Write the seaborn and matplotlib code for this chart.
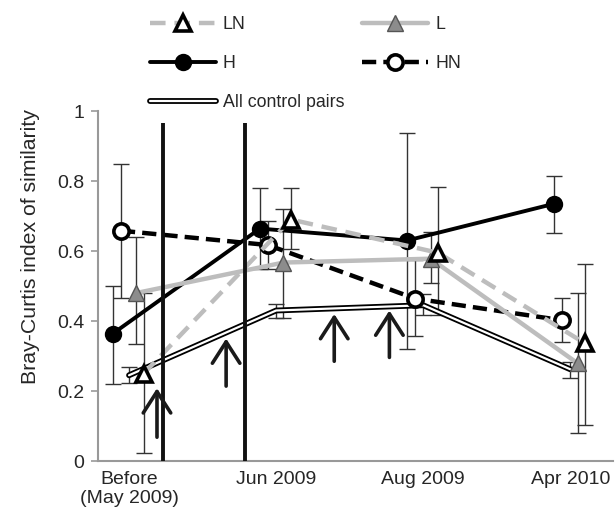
import matplotlib
matplotlib.use("Agg")
import matplotlib.pyplot as plt
import matplotlib.patheffects as pe
import seaborn as sns
import pandas as pd
import numpy as np

# ---- data ----
periods = ["Before\n(May 2009)", "Jun 2009", "Aug 2009", "Apr 2010"]

H_mean = [0.364, 0.664, 0.630, 0.735]
H_lo = [0.220, 0.550, 0.320, 0.652]
H_hi = [0.500, 0.780, 0.937, 0.815]

HN_mean = [0.658, 0.617, 0.464, 0.402]
HN_lo = [0.465, 0.550, 0.356, 0.339]
HN_hi = [0.849, 0.686, 0.573, 0.465]

CTRL_mean = [0.245, 0.430, 0.445, 0.262]
CTRL_lo = [0.222, 0.410, 0.416, 0.236]
CTRL_hi = [0.268, 0.450, 0.478, 0.282]

L_mean = [0.480, 0.567, 0.578, 0.279]
L_lo = [0.335, 0.410, 0.508, 0.080]
L_hi = [0.640, 0.720, 0.655, 0.479]

LN_mean = [0.250, 0.690, 0.595, 0.336]
LN_lo = [0.022, 0.605, 0.416, 0.103]
LN_hi = [0.480, 0.780, 0.784, 0.564]

# event markers
event_lines = [0.23, 0.79]
arrow_x = [0.19, 0.66, 1.395, 1.77]
arrow_tip = [0.208, 0.350, 0.420, 0.430]
arrow_tail = [0.068, 0.214, 0.285, 0.296]

# ---- figure ----
sns.set_theme(style="white")
plt.rcParams["font.family"] = ["Liberation Sans", "DejaVu Sans"]

fig = plt.figure(figsize=(6.16, 5.18), dpi=100)
ax = fig.add_axes([98 / 616, 1 - 461 / 518, (613 - 98) / 616, (461 - 111) / 518])

xbase = np.arange(len(periods))

series = [
    # name, mean, lo, hi, offset, style
    ("H", H_mean, H_lo, H_hi, -0.11,
     dict(color="black", lw=2.8, marker="o", markersize=11, mfc="black", mec="black", mew=1.5), None),
    ("HN", HN_mean, HN_lo, HN_hi, -0.055,
     dict(color="black", lw=3.2, marker="o", markersize=11, mfc="white", mec="black", mew=2.6), (3.2, 1.6)),
    ("All control pairs", CTRL_mean, CTRL_lo, CTRL_hi, 0.0,
     dict(color="white", lw=1.6, solid_capstyle="round"), None),
    ("L", L_mean, L_lo, L_hi, 0.05,
     dict(color="#bdbdbd", lw=3.2, marker="^", markersize=11, mfc="#8c8c8c", mec="#555555", mew=1.0), None),
    ("LN", LN_mean, LN_lo, LN_hi, 0.10,
     dict(color="#bdbdbd", lw=3.2, marker="^", markersize=11, mfc="white", mec="black", mew=2.6), (3.5, 2.0)),
]

handles = {}
for name, m, lo, hi, off, style, dashes in series:
    x = xbase + off
    m = np.array(m)
    yerr = np.vstack([m - np.array(lo), np.array(hi) - m])
    ax.errorbar(x, m, yerr=yerr, fmt="none", ecolor="#333333", elinewidth=1.0,
                capsize=6, capthick=1.0, zorder=1.5)
    df = pd.DataFrame({"x": x, "y": m})
    sns.lineplot(data=df, x="x", y="y", ax=ax, errorbar=None, sort=False,
                 zorder=2, label=name, **style)
    line = ax.lines[-1]
    if dashes is not None:
        line.set_dashes(dashes)
    if name == "All control pairs":
        line.set_path_effects([pe.Stroke(linewidth=4.2, foreground="black", capstyle="round"), pe.Normal()])
        line.set_zorder(1.8)
    handles[name] = line

ax.vlines(event_lines, 0, 0.965, colors="#111111", lw=2.8, zorder=3)

for xa, yt, yb in zip(arrow_x, arrow_tip, arrow_tail):
    ax.annotate("", xy=(xa, yt), xytext=(xa, yb),
                arrowprops=dict(arrowstyle="->,head_length=0.7,head_width=0.45",
                                lw=2.6, color="#1a1a1a", mutation_scale=22,
                                shrinkA=0, shrinkB=0),
                zorder=3)

ax.set_xlim(-0.211, 3.29)
ax.set_ylim(0, 1)
ax.set_xticks(xbase)
ax.set_xticklabels(periods, fontsize=14)
ax.set_yticks([0, 0.2, 0.4, 0.6, 0.8, 1.0])
ax.set_yticklabels(["0", "0.2", "0.4", "0.6", "0.8", "1"], fontsize=14)
ax.tick_params(axis="y", direction="out", length=5, width=1.2, color="#999999", pad=5, left=True)
ax.tick_params(axis="x", length=0, pad=7)
ax.set_xlabel("")
ax.set_ylabel("Bray-Curtis index of similarity", fontsize=15.3, labelpad=9)
ax.yaxis.set_label_coords(-0.112, 0.614)
for s in ["top", "right"]:
    ax.spines[s].set_visible(False)
for s in ["left", "bottom"]:
    ax.spines[s].set_color("#999999")
    ax.spines[s].set_linewidth(1.5)

if ax.get_legend() is not None:
    ax.get_legend().remove()

order = ["LN", "H", "All control pairs", "L", "HN"]
fig.legend([handles[k] for k in order], order, ncol=2, loc="upper left",
           bbox_to_anchor=(150 / 616, 1 - 16 / 518), frameon=False,
           fontsize=12.8, handlelength=3.7, handletextpad=0.4,
           columnspacing=1.0, labelspacing=1.25, borderaxespad=0, borderpad=0)

fig.savefig("out.png", dpi=100)
